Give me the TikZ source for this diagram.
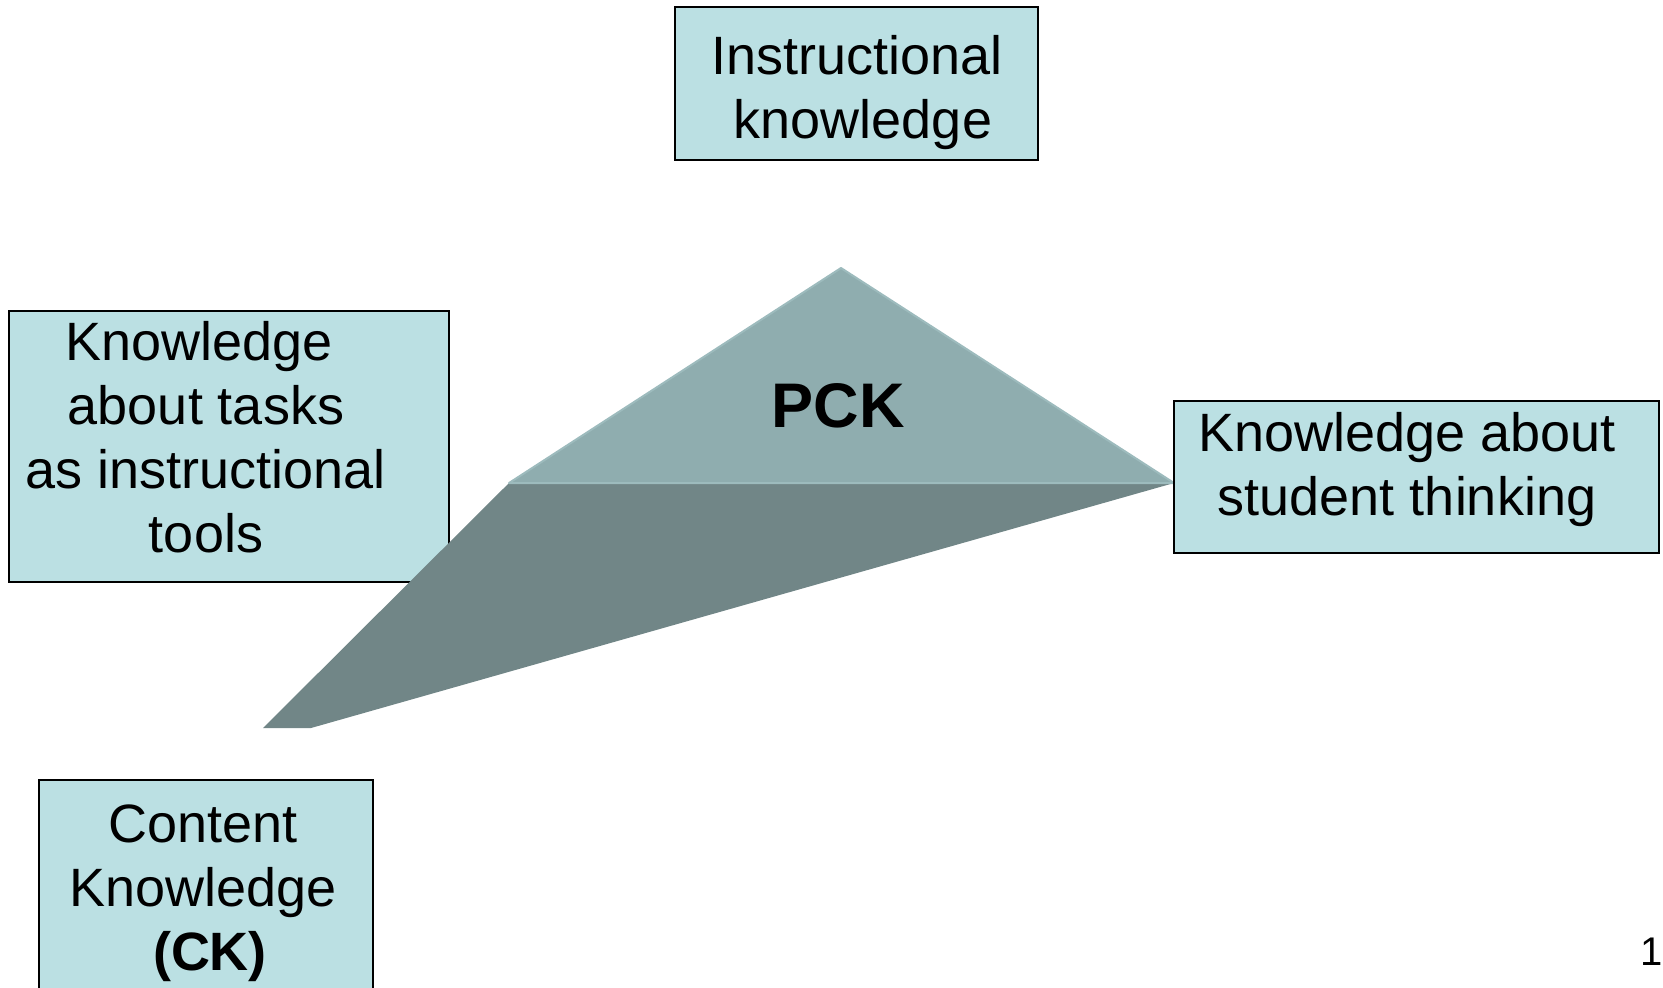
\documentclass[tikz,border=0pt]{standalone}
\usepackage{fontspec}
\setmainfont{Liberation Sans}
\definecolor{boxfill}{HTML}{BBE0E3}
\definecolor{pcktop}{HTML}{8FADAF}
\definecolor{pckedge}{HTML}{9DBBBD}
\definecolor{pckbot}{HTML}{718687}
\tikzset{
  kbox/.style={draw=black, line width=1pt, fill=boxfill, rectangle, inner sep=0pt},
  ktext/.style={align=center, inner sep=0pt, font=\fontsize{27pt}{32pt}\selectfont},
}
\begin{document}
\begin{tikzpicture}[x=0.5pt, y=-0.5pt]
\useasboundingbox (0,0) rectangle (1663,987);
\clip (0,0) rectangle (1663,987);
% boxes
\node[kbox, minimum width=181.5pt, minimum height=76.5pt] (top) at (856.5,83.5) {};
\node[ktext] (topT) at (857,92.5) {Instructional\\ \hspace*{6pt}knowledge};
\node[kbox, minimum width=220.25pt, minimum height=135.5pt] (left) at (228.75,446.5) {};
\node[ktext] (leftT) at (206,437.5) {Knowledge\hspace*{7pt}\\ about tasks\\ as instructional\\ tools};
% PCK shape
\coordinate (apex) at (841,268);
\coordinate (L) at (509,483);
\coordinate (R) at (1174,483);
\coordinate (BL) at (263,728);
\coordinate (BR) at (311,728);
\fill[pckbot] (L) -- (R) -- (BR) -- (BL) -- cycle;
\fill[pcktop] (apex) -- (R) -- (L) -- cycle;
\draw[pckedge, line width=1pt, line join=round] (L) -- (apex) -- (R) -- cycle;
\node[anchor=base, inner sep=0pt, font=\fontsize{31.5pt}{36pt}\selectfont\bfseries] (pck) at (838,427) {PCK};
% right box
\node[kbox, minimum width=242.5pt, minimum height=76pt] (right) at (1416.5,477) {};
\node[ktext] (rightT) at (1407,470) {Knowledge about\\ student thinking};
% bottom box
\node[kbox, minimum width=167pt, minimum height=115pt] (bottom) at (206,895) {};
\node[ktext] (bottomT) at (203,893) {Content\\ Knowledge\\ \hspace*{7pt}\textbf{(CK)}};
% page number
\node[anchor=base, inner sep=0pt, font=\fontsize{20pt}{24pt}\selectfont] (num) at (1652,965) {1};
\end{tikzpicture}
\end{document}
